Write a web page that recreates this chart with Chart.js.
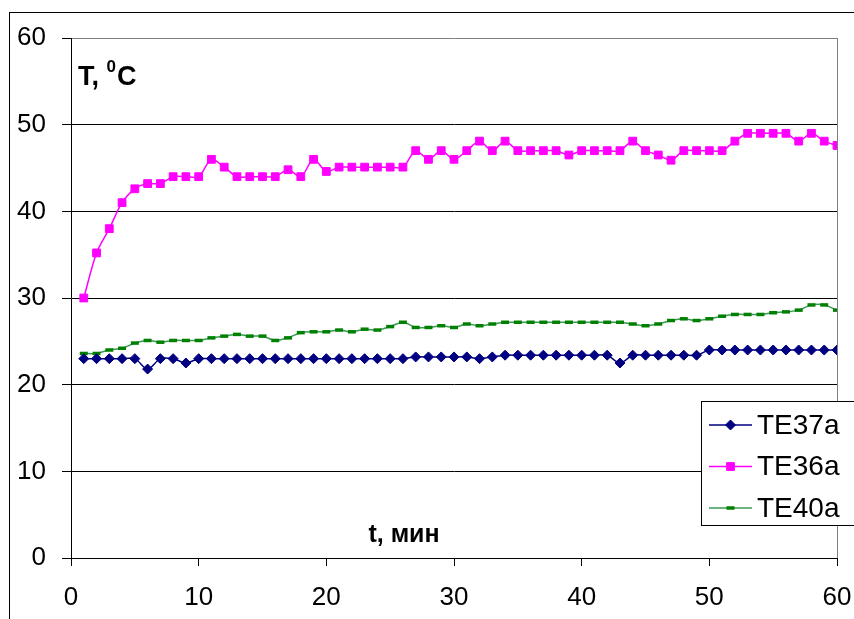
<!DOCTYPE html>
<html lang="ru">
<head>
  <meta charset="UTF-8" />
  <title>TE temperatures</title>
  <style>
    body { margin: 0; background: #fff; }
    #wrap { width: 854px; height: 619px; }
  </style>
</head>
<body>
  <div id="wrap"><canvas id="chart" width="854" height="619"></canvas></div>

  <script src="https://cdn.jsdelivr.net/npm/chart.js"></script>
  <script>
    // time, min
    const minutes = [1, 2, 3, 4, 5, 6, 7, 8, 9, 10, 11, 12, 13, 14, 15, 16, 17, 18, 19, 20,
      21, 22, 23, 24, 25, 26, 27, 28, 29, 30, 31, 32, 33, 34, 35, 36, 37, 38, 39, 40,
      41, 42, 43, 44, 45, 46, 47, 48, 49, 50, 51, 52, 53, 54, 55, 56, 57, 58, 59, 60];

    const te37a = [23, 23, 23, 23, 23, 21.8, 23, 23, 22.5, 23, 23, 23, 23, 23, 23, 23, 23, 23, 23, 23,
      23, 23, 23, 23, 23, 23, 23.2, 23.2, 23.2, 23.2, 23.2, 23, 23.2, 23.4, 23.4, 23.4, 23.4, 23.4, 23.4, 23.4,
      23.4, 23.4, 22.5, 23.4, 23.4, 23.4, 23.4, 23.4, 23.4, 24, 24, 24, 24, 24, 24, 24, 24, 24, 24, 24];

    const te36a = [30, 35.2, 38, 41, 42.6, 43.2, 43.2, 44, 44, 44, 46, 45.1, 44, 44, 44, 44, 44.8, 44, 46, 44.6,
      45.1, 45.1, 45.1, 45.1, 45.1, 45.1, 47, 46, 47, 46, 47, 48.1, 47, 48.1, 47, 47, 47, 47, 46.5, 47,
      47, 47, 47, 48.1, 47, 46.5, 45.9, 47, 47, 47, 47, 48.1, 49, 49, 49, 49, 48.1, 49, 48.1, 47.6];

    const te40a = [23.6, 23.6, 24, 24.2, 24.8, 25.1, 24.9, 25.1, 25.1, 25.1, 25.4, 25.6, 25.8, 25.6, 25.6, 25.1, 25.4, 26, 26.1, 26.1,
      26.3, 26.1, 26.4, 26.3, 26.7, 27.2, 26.6, 26.6, 26.8, 26.6, 27, 26.8, 27, 27.2, 27.2, 27.2, 27.2, 27.2, 27.2, 27.2,
      27.2, 27.2, 27.2, 27, 26.8, 27, 27.4, 27.6, 27.4, 27.6, 27.9, 28.1, 28.1, 28.1, 28.3, 28.4, 28.6, 29.2, 29.2, 28.6];

    const seriesNames = ['TE37a', 'TE36a', 'TE40a'];
    const yLabel = 'T, ';
    const xLabel = 't, мин';

    const FONT = "'Liberation Sans', Arial, sans-serif";

    const pts = (vals) => minutes.map((m, i) => ({ x: m, y: vals[i] }));

    // frame, axis captions and the boxed legend sitting on the plot
    const decor = {
      id: 'decor',
      beforeDraw(chart) {
        const c = chart.ctx;
        c.save();
        c.fillStyle = '#fff';
        c.fillRect(0, 0, chart.width, chart.height);
        c.strokeStyle = '#000';
        c.lineWidth = 1;
        c.strokeRect(9.5, 12.5, 900, 700);
        c.restore();
      },
      afterDraw(chart) {
        const c = chart.ctx;
        c.save();
        c.fillStyle = '#000';
        c.textBaseline = 'alphabetic';
        // y caption
        c.font = 'bold 27px ' + FONT;
        c.fillText(yLabel, 78, 85);
        let w = c.measureText(yLabel).width;
        c.font = 'bold 17px ' + FONT;
        c.fillText('0', 78 + w, 72);
        let w2 = c.measureText('0').width;
        c.font = 'bold 27px ' + FONT;
        c.fillText('C', 78 + w + w2 + 1, 85);
        // x caption
        c.font = 'bold 25px ' + FONT;
        c.textAlign = 'center';
        c.fillText(xLabel, 404, 542);

        // legend
        const bx = 701.5, by = 401.5;
        c.fillStyle = '#fff';
        c.fillRect(bx, by, 160, 124);
        c.strokeStyle = '#000';
        c.lineWidth = 1;
        c.strokeRect(bx, by, 160, 124);
        c.textAlign = 'left';
        c.textBaseline = 'middle';
        c.font = '28px ' + FONT;
        chart.data.datasets.forEach((ds, i) => {
          const y = 425 + i * 41.5;
          c.strokeStyle = ds.borderColor;
          c.lineWidth = 1.5;
          c.beginPath();
          c.moveTo(709, y);
          c.lineTo(752, y);
          c.stroke();
          c.fillStyle = ds.pointBackgroundColor;
          c.strokeStyle = ds.pointBorderColor;
          c.lineWidth = ds.pointBorderWidth;
          Chart.helpers.drawPoint(c, {
            pointStyle: ds.pointStyle,
            radius: ds.pointRadius,
            rotation: 0,
            borderWidth: ds.pointBorderWidth
          }, 730.5, y);
          c.fillStyle = '#000';
          c.fillText(ds.label, 757, y + 1);
        });
        c.restore();
      }
    };

    new Chart(document.getElementById('chart'), {
      type: 'line',
      data: {
        datasets: [
          {
            label: seriesNames[0],
            data: pts(te37a),
            borderColor: '#000080',
            borderWidth: 1.5,
            pointStyle: 'rectRot',
            pointRadius: 5,
            pointBackgroundColor: '#000080',
            pointBorderColor: '#000080',
            pointBorderWidth: 1,
            tension: 0.3
          },
          {
            label: seriesNames[1],
            data: pts(te36a),
            borderColor: '#FF00FF',
            borderWidth: 1.5,
            pointStyle: 'rect',
            pointRadius: 5.5,
            pointBackgroundColor: '#FF00FF',
            pointBorderColor: '#FF00FF',
            pointBorderWidth: 1,
            tension: 0.3
          },
          {
            label: seriesNames[2],
            data: pts(te40a),
            borderColor: '#3a9a55',
            borderWidth: 1.5,
            pointStyle: 'line',
            pointRadius: 4,
            pointBackgroundColor: '#008000',
            pointBorderColor: '#008000',
            pointBorderWidth: 3.5,
            tension: 0.3
          }
        ]
      },
      options: {
        responsive: false,
        animation: false,
        layout: { padding: { top: 38, right: 17, left: 0, bottom: 0 } },
        plugins: {
          legend: { display: false },
          tooltip: { enabled: false }
        },
        scales: {
          x: {
            type: 'linear',
            min: 0,
            max: 60,
            afterFit: (s) => { s.height = 61; s.paddingLeft = 0; s.paddingRight = 0; },
            ticks: {
              stepSize: 10,
              color: '#000',
              padding: 16,
              maxRotation: 0,
              font: { family: FONT, size: 26 }
            },
            grid: {
              drawOnChartArea: true,
              color: (ctx) => ctx.tick && ctx.tick.value === 60 ? '#808080' : 'rgba(0,0,0,0)',
              tickColor: '#000',
              tickLength: 8
            },
            border: { color: '#000', width: 1 }
          },
          y: {
            min: 0,
            max: 60,
            afterFit: (s) => { s.width = 71; },
            ticks: {
              stepSize: 10,
              color: '#000',
              padding: 16,
              font: { family: FONT, size: 26 }
            },
            grid: {
              color: (ctx) => ctx.tick && ctx.tick.value === 60 ? '#808080' : '#000',
              tickColor: '#000',
              tickLength: 9
            },
            border: { color: '#000', width: 1 }
          }
        }
      },
      plugins: [decor]
    });
  </script>
</body>
</html>
